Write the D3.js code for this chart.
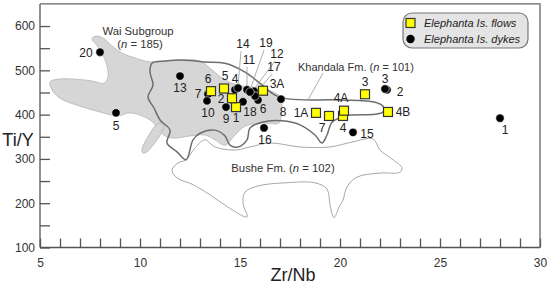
<!DOCTYPE html>
<html>
<head>
<meta charset="utf-8">
<script src="https://cdn.jsdelivr.net/npm/d3@7"></script>
<style>
  body { margin: 0; background: #fff; }
  svg { display: block; font-family: "Liberation Sans", Arial, sans-serif; }
</style>
</head>
<body>
<svg id="chart" width="550" height="284"></svg>
<script>
// Elephanta Island samples
var dykeLabels = ["1", "2", "3", "4", "5", "6", "7", "8", "9", "10", "11", "12", "13", "14", "15", "16", "17", "18", "19", "20"];
var dykeZrNb   = [28.0, 22.35, 22.25, 14.75, 8.8, 15.9, 13.4, 17.05, 14.3, 13.35, 15.35, 15.7, 12.0, 14.9, 20.65, 16.2, 15.75, 15.15, 15.5, 8.0];
var dykeTiY    = [392, 456, 458, 456, 404, 433, 446, 435, 417, 431, 456, 453, 487, 460, 360, 370, 442, 429, 451, 541];

var flowLabels = ["1", "2", "3", "4", "5", "6", "7", "1A", "3A", "4A", "4B"];
var flowZrNb   = [14.8, 14.6, 21.25, 20.15, 14.2, 13.55, 19.45, 18.8, 16.15, 20.2, 22.4];
var flowTiY    = [417, 437, 446, 397, 459, 453, 397, 404, 454, 409, 406];

// field outlines, [Zr/Nb, Ti/Y]
var waiField = [[5.5,474],[5.9,480],[6.75,480],[7.6,476],[8.2,471],[8.4,485],[8.35,510],[8.1,539],[7.8,559],[7.6,571],
  [7.75,577],[8.15,573],[8.6,555],[9.1,539],[9.75,528],[10.5,519],[12,523],[13,521],[13.6,501],[14.25,478],[15,465],
  [16,460],[16.75,449],[17.05,437],[17.05,399],[16.95,381],[16.1,381],[15.25,374],[14.75,354],[14.25,331],[13.75,343],
  [13.25,354],[12.5,352],[11.75,347],[11.25,352],[10.5,388],[9.5,404],[8.9,397],[8,406],[7,419],[6,437],[5.6,456]];
var waiSliver = [[11,381],[11.2,374],[10.4,318],[10.15,313],[10.1,322],[10.85,379]];
var khandalaField = [[10.6,516],[11.25,521],[12.25,523],[13.25,519],[14.25,516],[15.25,496],[16.1,467],[16.75,444],
  [17.5,435],[20,433],[21.75,428],[22.15,419],[22.15,406],[21.75,401],[20.5,399],[20.15,395],[19.6,383],[19.35,354],
  [19.1,336],[18.75,354],[18,377],[17.1,386],[16.1,383],[15.5,370],[15.35,343],[14.9,327],[14.5,331],[14.25,352],
  [13.75,365],[13,358],[12.65,343],[12.3,298],[11.85,316],[11.35,336],[11.5,365],[11,388],[10.7,415],[10.4,440],
  [10.65,467],[10.5,496]];
var busheField = [[12.3,298],[11.9,291],[11.6,275],[11.85,257],[12.6,243],[13.5,219],[14.4,191],[15.35,169],[15.15,200],
  [15.25,225],[15.9,239],[17.25,246],[18.75,246],[19.35,232],[19.5,196],[19.7,167],[19.95,191],[20.15,207],[20.35,237],
  [20.85,259],[22,268],[23,270],[23.1,280],[22.65,298],[22,320],[21.65,345],[20.6,338],[19.5,327],[18,327],[16.5,336],
  [15.5,327],[14.75,320],[13.75,327],[13.25,343],[12.75,325]];

var xTicks = d3.range(5, 31, 1);
var yTicks = d3.range(100, 601, 50);

// label placement, pixel offsets from the mark
var dykeLabelPos = {"1":[5,12],"2":[13,2],"3":[0,-10],"4":[0,-11],"5":[0,13],"6":[5,9],"7":[-10,0],"8":[2,13],
  "9":[0,12],"10":[1,12],"11":[2,-30],"12":[23,-37],"13":[0,12],"14":[5,-44],"15":[14,1],"16":[1,12],
  "17":[19,-29],"18":[7,10],"19":[16,-49],"20":[-14,1]};
var leadered = ["14", "11", "19", "12", "17"];
var flowLabelPos = {"1":[0,11],"2":[-11,1],"3":[0,-12],"4":[0,12],"5":[1,-13],"6":[-3,-12],"7":[-7,12],
  "1A":[-15,0],"3A":[14,-7],"4A":[-3,-13],"4B":[15,0]};

var svg = d3.select("#chart");
var x = d3.scaleLinear().domain([5, 30]).range([40, 540]);
var y = d3.scaleLinear().domain([100, 650]).range([247.5, 3.9]);
var line = d3.line().x(function(d) { return x(d[0]); }).y(function(d) { return y(d[1]); }).curve(d3.curveCatmullRomClosed.alpha(0.5));

// fields
[waiField, waiSliver].forEach(function(f) {
    svg.append("path").attr("d", line(f))
        .attr("fill", "#d6d6d6").attr("stroke", "#b4b4b4").attr("stroke-width", 0.8);
});
svg.append("path").attr("d", line(busheField))
    .attr("fill", "none").attr("stroke", "#a8a8a8").attr("stroke-width", 1);
svg.append("path").attr("d", line(khandalaField))
    .attr("fill", "none").attr("stroke", "#6e6e6e").attr("stroke-width", 1.5);

// axes
var xAxis = svg.append("g").attr("transform", "translate(0," + y(100) + ")")
    .call(d3.axisBottom(x).tickValues(xTicks).tickSizeInner(-9).tickSizeOuter(0).tickPadding(11)
        .tickFormat(function(d) { return d % 5 === 0 ? d : ""; }));
var yAxis = svg.append("g").attr("transform", "translate(" + x(5) + ",0)")
    .call(d3.axisLeft(y).tickValues(yTicks).tickSizeInner(-10).tickSizeOuter(0).tickPadding(5)
        .tickFormat(function(d) { return d % 100 === 0 ? d : ""; }));
[xAxis, yAxis].forEach(function(a) {
    a.selectAll("path, line").attr("stroke", "#555").attr("stroke-width", 1.3);
    a.selectAll("text").attr("fill", "#333").style("font-size", "12px").style("font-family", "Liberation Sans, Arial, sans-serif");
});
yAxis.select(".domain").attr("d", "M0," + y(100) + "V" + y(650));
xAxis.select(".domain").attr("d", "M" + x(5) + ",0H" + x(30));

// frame top / right
svg.append("path")
    .attr("d", "M" + x(5) + "," + y(650) + "H" + x(30) + "V" + y(100))
    .attr("fill", "none").attr("stroke", "#666").attr("stroke-width", 1.3);

// axis titles
svg.append("text").attr("x", 18).attr("y", 146).attr("text-anchor", "middle")
    .style("font-size", "18px").attr("fill", "#222").text("Ti/Y");
svg.append("text").attr("x", 293).attr("y", 281).attr("text-anchor", "middle")
    .style("font-size", "18px").attr("fill", "#222").text("Zr/Nb");

// field names
function fieldName(tx, ty, name, n, anchor, size) {
    var t = svg.append("text").attr("x", tx).attr("y", ty).attr("text-anchor", anchor)
        .style("font-size", size).attr("fill", "#333");
    if (name) t.append("tspan").text(name);
    t.append("tspan").text("(");
    t.append("tspan").style("font-style", "italic").text("n");
    t.append("tspan").text(" = " + n + ")");
}
svg.append("text").attr("x", 138).attr("y", 35).attr("text-anchor", "middle")
    .style("font-size", "11.3px").attr("fill", "#333").text("Wai Subgroup");
fieldName(140, 48, "", 185, "middle", "11.3px");
fieldName(298, 71, "Khandala Fm. ", 101, "start", "11px");
fieldName(283, 172, "Bushe Fm. ", 102, "middle", "11.3px");

// Khandala leader
svg.append("line")
    .attr("x1", x(19.15)).attr("y1", y(494)).attr("x2", x(18.4)).attr("y2", y(433))
    .attr("stroke", "#999").attr("stroke-width", 0.8);

var dykes = dykeLabels.map(function(l, i) { return {label: l, zr: dykeZrNb[i], ti: dykeTiY[i]}; });
var flows = flowLabels.map(function(l, i) { return {label: l, zr: flowZrNb[i], ti: flowTiY[i]}; });

// leader lines for crowded dykes
svg.selectAll(".leader").data(dykes.filter(function(d) { return leadered.indexOf(d.label) >= 0; }))
    .enter().append("line")
    .attr("class", "leader")
    .attr("x1", function(d) { return x(d.zr) + dykeLabelPos[d.label][0] - 2; })
    .attr("y1", function(d) { return y(d.ti) + dykeLabelPos[d.label][1] + 7; })
    .attr("x2", function(d) { return x(d.zr); })
    .attr("y2", function(d) { return y(d.ti) - 2; })
    .attr("stroke", "#999").attr("stroke-width", 0.8);

svg.selectAll(".dyke").data(dykes).enter().append("circle")
    .attr("class", "dyke")
    .attr("cx", function(d) { return x(d.zr); })
    .attr("cy", function(d) { return y(d.ti); })
    .attr("r", 4.2)
    .attr("fill", "#000").attr("stroke", "#fff").attr("stroke-width", 0.6);

svg.selectAll(".flow").data(flows).enter().append("rect")
    .attr("class", "flow")
    .attr("x", function(d) { return x(d.zr) - 4.5; })
    .attr("y", function(d) { return y(d.ti) - 4.5; })
    .attr("width", 9).attr("height", 9)
    .attr("fill", "#ffff00").attr("stroke", "#333").attr("stroke-width", 1.2);

function addLabels(data, pos, cls) {
    svg.selectAll("." + cls).data(data).enter().append("text")
        .attr("class", cls)
        .attr("x", function(d) { return x(d.zr) + pos[d.label][0]; })
        .attr("y", function(d) { return y(d.ti) + pos[d.label][1]; })
        .attr("dy", "0.35em")
        .attr("text-anchor", "middle")
        .style("font-size", "12px")
        .attr("fill", "#222")
        .text(function(d) { return d.label; });
}
addLabels(dykes, dykeLabelPos, "dlabel");
addLabels(flows, flowLabelPos, "flabel");

// legend
var legend = svg.append("g").attr("transform", "translate(403,13)");
legend.append("rect").attr("width", 125).attr("height", 35).attr("rx", 9)
    .attr("fill", "#e4e4e4").attr("stroke", "#777").attr("stroke-width", 1.2);
legend.append("rect").attr("x", 3).attr("y", 5.5).attr("width", 9).attr("height", 9)
    .attr("fill", "#ffff00").attr("stroke", "#333").attr("stroke-width", 1.2);
legend.append("circle").attr("cx", 7.5).attr("cy", 26).attr("r", 4.2).attr("fill", "#000");
legend.selectAll(".ltext").data(["Elephanta Is. flows", "Elephanta Is. dykes"])
    .enter().append("text")
    .attr("x", 21).attr("y", function(d, i) { return 10 + i * 16; })
    .attr("dy", "0.35em")
    .style("font-size", "11px").style("font-style", "italic").attr("fill", "#222")
    .text(function(d) { return d; });
</script>
</body>
</html>
